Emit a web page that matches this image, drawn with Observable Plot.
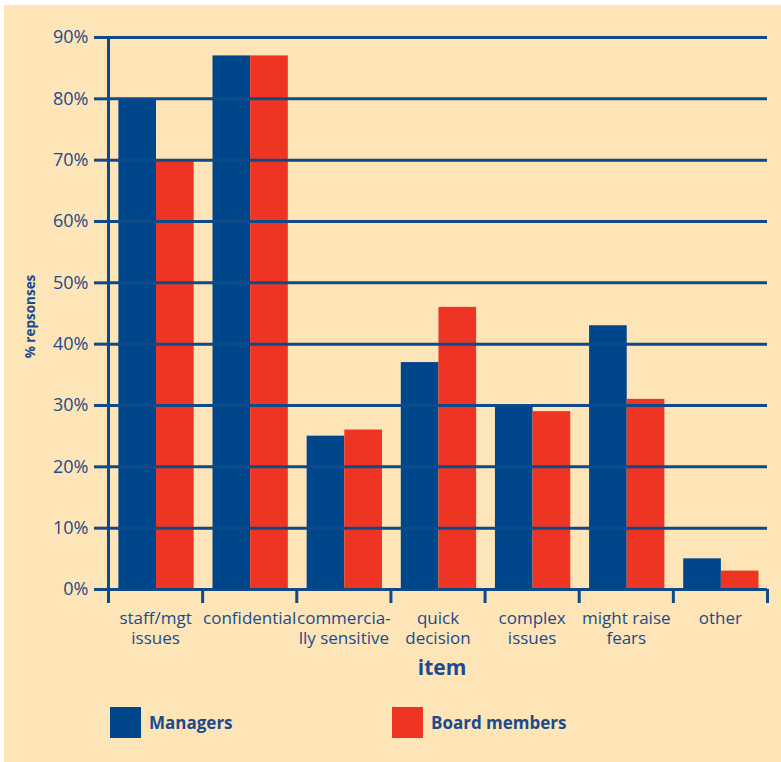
<!DOCTYPE html>
<html>
<head>
<meta charset="utf-8">
<script src="https://cdn.jsdelivr.net/npm/d3@7"></script>
<script src="https://cdn.jsdelivr.net/npm/@observablehq/plot@0.6"></script>
<style>
  html, body { margin: 0; padding: 0; background: #ffffff; }
  #card {
    position: absolute; left: 4px; top: 5px; width: 777px; height: 757px;
    background: #FDE5B8; font-family: "Open Sans", sans-serif; color: #1B4B8C;
  }
  #legend { position: relative; height: 40px; margin-top: 12px; }
  .item { position: absolute; top: 0; display: flex; align-items: center; gap: 8px;
    font-weight: 700; font-size: 17px; color: #1B4B8C; }
  .sw { width: 31px; height: 31px; display: inline-block; }
</style>
</head>
<body>
<div id="card">
  <div id="chart"></div>
  <div id="legend"></div>
</div>
<script>
// ---- data ----
const categories = ["staff/mgt\nissues", "confidential", "commercia-\nlly sensitive", "quick\ndecision", "complex\nissues", "might raise\nfears", "other"];
const series = ["Managers", "Board members"];
const managers = [80, 87, 25, 37, 30, 43, 5];
const board    = [70, 87, 26, 46, 29, 31, 3];
const yTicks = [0, 10, 20, 30, 40, 50, 60, 70, 80, 90];
const colors = ["#00468B", "#EE3524"];

const navy = "#0E4A8A";
const pad = 0.11, bw = 0.4;

const rows = categories.flatMap((c, i) => [
  {i, s: 0, v: managers[i]},
  {i, s: 1, v: board[i]}
]);

const chart = Plot.plot({
  width: 777,
  height: 690,
  marginLeft: 104,
  marginRight: 14,
  marginTop: 32,
  marginBottom: 106,
  style: {background: "transparent", color: "#1B4B8C", fontFamily: "'Open Sans', sans-serif", overflow: "visible"},
  x: {type: "linear", domain: [0, categories.length], axis: null},
  y: {domain: [0, 90], axis: null},
  color: {domain: series, range: colors},
  marks: [
    Plot.rectY(rows, {
      x1: d => d.i + pad + d.s * bw,
      x2: d => d.i + pad + (d.s + 1) * bw,
      y: "v",
      fill: d => series[d.s]
    }),
    Plot.ruleY(yTicks, {stroke: navy, strokeWidth: 3}),
    Plot.ruleX([0], {y1: 0, y2: 90, stroke: navy, strokeWidth: 3}),
    Plot.axisY({ticks: yTicks, tickSize: 14, tickPadding: 6, tickFormat: d => d + "%",
      fontSize: 18, strokeWidth: 3, stroke: navy, label: null}),
    Plot.axisX({ticks: d3.range(categories.length + 1), tickSize: 14, tickFormat: () => "",
      strokeWidth: 3, stroke: navy, label: null}),
    Plot.axisX({ticks: categories.map((c, i) => i + 0.5), tickSize: 0, tickPadding: 20,
      tickFormat: d => categories[Math.floor(d)], fontSize: 17, lineHeight: 1.18, label: null}),
    Plot.text(["item"], {frameAnchor: "bottom", textAnchor: "middle", dx: 4, dy: 85, fontSize: 21, fontWeight: "bold", fill: "#1B4B8C"}),
    Plot.text(["% repsonses"], {frameAnchor: "left", textAnchor: "middle", dx: -78, dy: 3, rotate: -90, fontSize: 13.5, fontWeight: "bold", fill: "#1B4B8C"})
  ]
});
document.getElementById("chart").appendChild(chart);

// legend
const legend = document.getElementById("legend");
const lefts = [106, 388];
series.forEach((s, k) => {
  const item = document.createElement("div");
  item.className = "item";
  item.style.left = lefts[k] + "px";
  item.innerHTML = `<span class="sw" style="background:${colors[k]}"></span><span>${s}</span>`;
  legend.appendChild(item);
});
</script>
</body>
</html>
